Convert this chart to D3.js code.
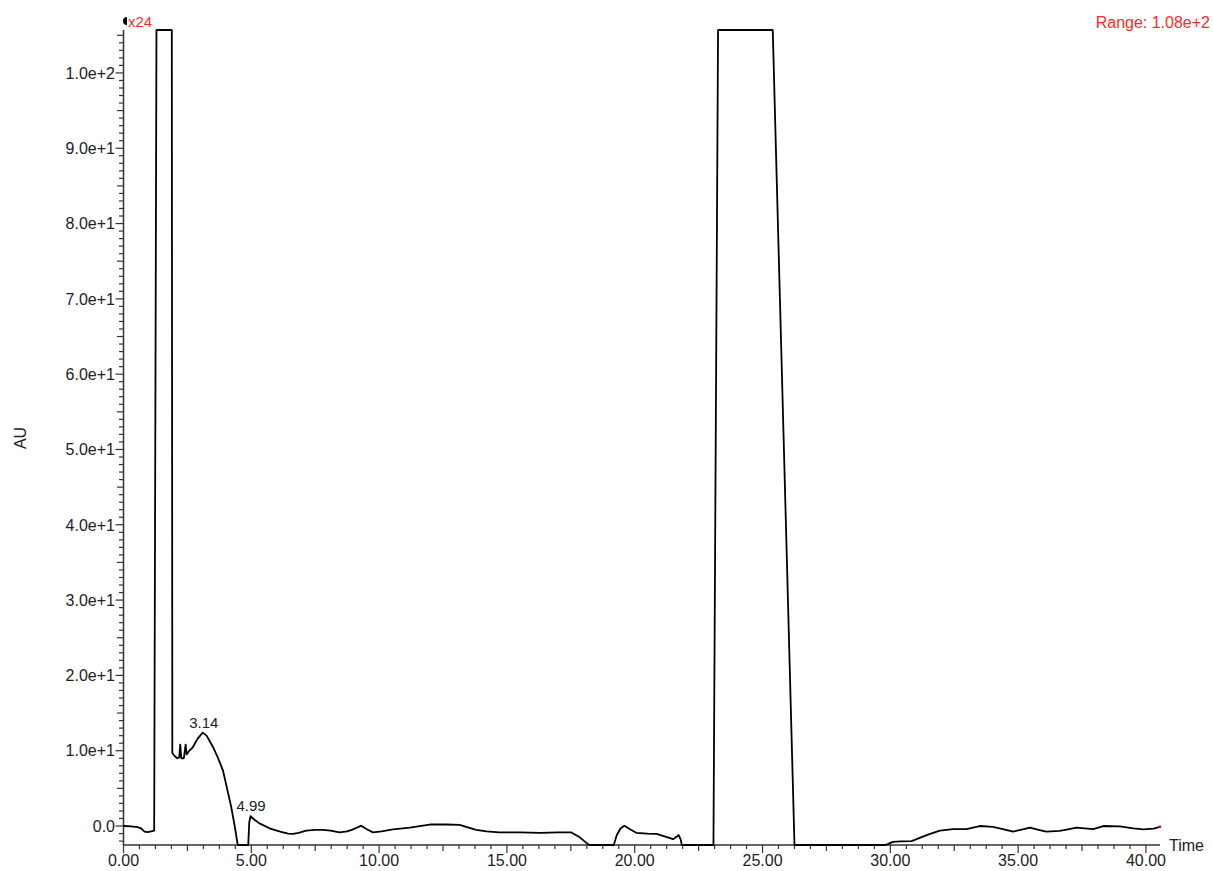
<!DOCTYPE html>
<html>
<head>
<meta charset="utf-8">
<script src="https://d3js.org/d3.v7.min.js"></script>
<style>
body { margin: 0; background: #fff; }
svg text { font-family: "Liberation Sans", Arial, sans-serif; }
</style>
</head>
<body>
<svg id="chart" width="1213" height="871"></svg>
<script>
// chromatogram trace, time in minutes, AU (off-scale values get clamped)
const time = [0.00, 0.30, 0.55, 0.70, 0.82, 0.95, 1.08, 1.20, 1.29, 1.89, 1.91, 2.00, 2.10, 2.18, 2.22, 2.26, 2.36, 2.43, 2.47, 2.55,
  2.70, 2.90, 3.10, 3.25, 3.50, 3.70, 3.89, 4.05, 4.21, 4.35, 4.47, 4.48, 4.88, 4.92, 4.97, 5.10, 5.32, 5.71, 6.00, 6.24,
  6.45, 6.63, 6.85, 7.15, 7.50, 7.80, 8.10, 8.45, 8.75, 8.98, 9.15, 9.30, 9.50, 9.76, 10.10, 10.54, 11.20, 11.98, 12.63, 13.15,
  13.50, 13.80, 14.20, 14.70, 15.50, 16.30, 17.00, 17.52, 17.85, 18.17, 18.25, 19.18, 19.30, 19.45, 19.60, 19.80, 20.06, 20.50, 20.85, 21.20,
  21.50, 21.65, 21.72, 21.80, 21.84, 23.08, 23.26, 25.40, 26.25, 29.80, 29.90, 30.10, 30.40, 30.83, 31.20, 31.50, 31.94, 32.45, 32.98, 33.50,
  34.02, 34.40, 34.80, 35.10, 35.46, 35.80, 36.10, 36.63, 37.00, 37.28, 37.60, 37.94, 38.33, 38.98, 39.50, 39.90, 40.30, 40.55];
const au = [0.0, -0.05, -0.15, -0.35, -0.75, -0.8, -0.7, -0.6, 120, 120, 9.7, 9.3, 9.0, 9.1, 10.8, 9.0, 9.0, 10.8, 9.5, 9.9,
  10.4, 11.6, 12.4, 12.0, 10.5, 9.0, 7.4, 5.0, 2.6, 0.0, -2.6, -4, -4, 0.5, 1.3, 0.9, 0.35, -0.3, -0.6, -0.85,
  -1.0, -1.05, -0.9, -0.6, -0.5, -0.5, -0.6, -0.85, -0.7, -0.45, -0.2, 0.05, -0.4, -0.85, -0.7, -0.45, -0.2, 0.2, 0.2, 0.15,
  -0.2, -0.5, -0.7, -0.85, -0.85, -0.9, -0.85, -0.85, -1.5, -2.4, -4, -4, -1.2, -0.3, 0.05, -0.4, -0.9, -1.0, -1.05, -1.4,
  -1.75, -1.4, -1.2, -1.8, -4, -4, 120, 120, -4, -4, -2.4, -2.1, -2.05, -2.0, -1.5, -1.1, -0.6, -0.4, -0.4, 0.0,
  -0.1, -0.4, -0.75, -0.5, -0.2, -0.5, -0.75, -0.65, -0.4, -0.2, -0.3, -0.4, 0.0, -0.05, -0.3, -0.45, -0.35, -0.1];

// labelled peaks
const peakTimes = [3.14, 4.99];
const peakLabels = ["3.14", "4.99"];
const peakHeights = [12.4, 1.3];

const xTicks = [0, 5, 10, 15, 20, 25, 30, 35, 40];
const yTicks = [0, 10, 20, 30, 40, 50, 60, 70, 80, 90, 100];
const yTickLabels = ["0.0", "1.0e+1", "2.0e+1", "3.0e+1", "4.0e+1", "5.0e+1", "6.0e+1", "7.0e+1", "8.0e+1", "9.0e+1", "1.0e+2"];

const svg = d3.select("#chart");

const x = d3.scaleLinear().domain([0, 40.55]).range([123.5, 1160]);
const y = d3.scaleLinear().domain([-2.52, 105.7]).range([845, 30]).clamp(true);

const axisColor = "#333";
const textColor = "#222";

// minor ticks y
const yMinor = d3.range(-2, 106, 1);
svg.append("g").selectAll("line").data(yMinor).join("line")
  .attr("x1", d => 123.5 - (d % 10 === 0 ? 8 : (d % 5 === 0 ? 6.5 : 4.5)))
  .attr("x2", 123.5)
  .attr("y1", d => y(d)).attr("y2", d => y(d))
  .attr("stroke", axisColor).attr("stroke-width", 1.2);

// minor ticks x
const xMinor = d3.range(0, 40.55, 0.625);
svg.append("g").selectAll("line").data(xMinor).join("line")
  .attr("x1", d => x(d)).attr("x2", d => x(d))
  .attr("y1", 845)
  .attr("y2", d => 845 + (Math.abs(d % 5) < 1e-6 ? 8 : (Math.abs(d % 2.5) < 1e-6 ? 6 : 4)))
  .attr("stroke", axisColor).attr("stroke-width", 1.2);

// axis lines
svg.append("line").attr("x1", 123.5).attr("x2", 123.5).attr("y1", 30).attr("y2", 845)
  .attr("stroke", axisColor).attr("stroke-width", 1.5);
svg.append("line").attr("x1", 123.5).attr("x2", 1160).attr("y1", 845).attr("y2", 845)
  .attr("stroke", axisColor).attr("stroke-width", 1.5);

// tick labels
svg.append("g").selectAll("text").data(yTicks).join("text")
  .attr("x", 115).attr("y", d => y(d)).attr("dy", "0.36em")
  .attr("text-anchor", "end").attr("font-size", 16).attr("fill", textColor)
  .text((d, i) => yTickLabels[i]);

svg.append("g").selectAll("text").data(xTicks).join("text")
  .attr("x", d => x(d)).attr("y", 866)
  .attr("text-anchor", "middle").attr("font-size", 16).attr("fill", textColor)
  .text(d => d.toFixed(2));

// axis titles
svg.append("text").attr("transform", "translate(26,438) rotate(-90)")
  .attr("text-anchor", "middle").attr("font-size", 16).attr("fill", textColor).text("AU");
svg.append("text").attr("x", 1169).attr("y", 851)
  .attr("font-size", 16).attr("fill", textColor).text("Time");

// trace
const pts = time.map((t, i) => [t, au[i]]);
const line = d3.line().x(d => x(d[0])).y(d => y(d[1]));
svg.append("path").datum(pts)
  .attr("d", line)
  .attr("fill", "none").attr("stroke", "#000").attr("stroke-width", 1.8)
  .attr("stroke-linejoin", "round");
svg.append("circle").attr("cx", x(time[time.length - 1])).attr("cy", y(au[au.length - 1]))
  .attr("r", 1.3).attr("fill", "#e00");

// peak labels
svg.append("g").selectAll("text").data(peakTimes).join("text")
  .attr("x", d => x(d)).attr("y", (d, i) => y(peakHeights[i]) - 5)
  .attr("text-anchor", "middle").attr("font-size", 15).attr("fill", textColor)
  .text((d, i) => peakLabels[i]);

// scale marker and range
svg.append("path").attr("d", "M127,17 A4,4 0 0 0 127,25 Z").attr("fill", "#000");
svg.append("text").attr("x", 128).attr("y", 27).attr("font-size", 15).attr("fill", "#ff2a2a").text("x24");
svg.append("text").attr("x", 1210).attr("y", 28).attr("text-anchor", "end")
  .attr("font-size", 16).attr("fill", "#ff2a2a").text("Range: 1.08e+2");
</script>
</body>
</html>
